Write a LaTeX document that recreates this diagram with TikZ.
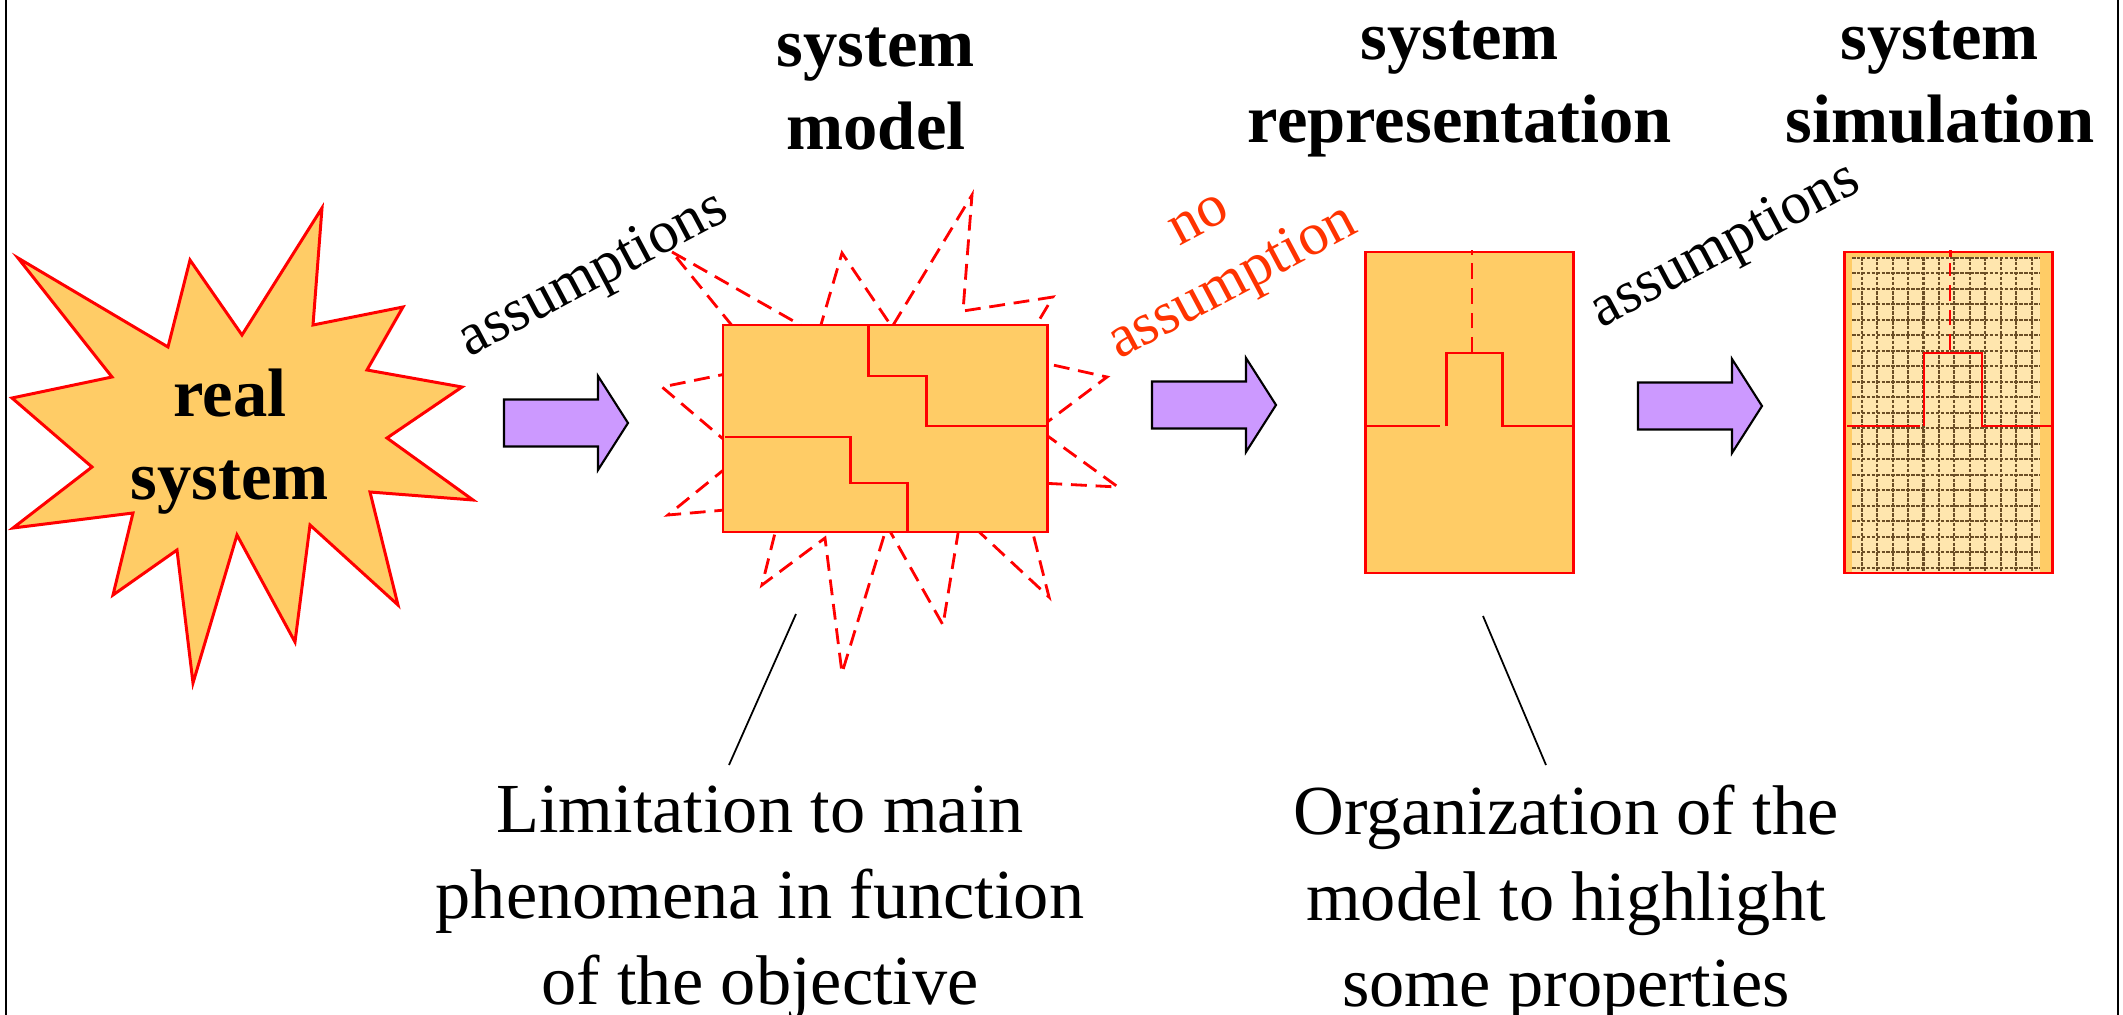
\documentclass[tikz,border=0pt]{standalone}
\usepackage{fontspec}
\setmainfont{Liberation Serif}
\usepackage{tikz}
\definecolor{starfill}{HTML}{FFCC66}
\definecolor{gridfill}{HTML}{FFE6AE}
\definecolor{gridline}{HTML}{6B4E26}
\definecolor{arrowfill}{HTML}{CC99FF}
\definecolor{noassume}{HTML}{FF3300}
\tikzstyle{every picture}=[x=0.01cm,y=-0.01cm]
\tikzstyle{frame}=[draw=black, line width=0.8pt]
\tikzstyle{redline}=[draw=red, line width=0.85pt]
\tikzstyle{thinred}=[draw=red, line width=0.6pt]
\tikzstyle{boxshape}=[redline, fill=starfill]
\tikzstyle{dashline}=[draw=red, line width=0.8pt, dash pattern=on 4.5pt off 2.5pt]
\tikzstyle{gridrule}=[draw=gridline, line width=0.6pt, dash pattern=on 1pt off 0.4pt]
\tikzstyle{arrowshape}=[draw=black, line width=0.6pt, fill=arrowfill, line join=miter]
\tikzstyle{leader}=[draw=black, line width=0.5pt]
\tikzstyle{title}=[font=\fontsize{19.5}{23.6}\selectfont\bfseries, align=center, inner sep=0pt]
\tikzstyle{remark}=[font=\fontsize{20}{24.5}\selectfont, align=center, inner sep=0pt]
\tikzstyle{slanted}=[font=\fontsize{17}{20.5}\selectfont, align=center, rotate=28, inner sep=0pt]
% block arrow: #1 = tail x, #2 = middle y
\newcommand{\fatarrow}[2]{%
  \filldraw[arrowshape] (#1,#2-23.5) -- ++(94,0) -- ++(0,-23.5) -- ++(30,47)
    -- ++(-30,47) -- ++(0,-23.5) -- ++(-94,0) -- cycle;}

\begin{document}
\begin{tikzpicture}
  \useasboundingbox (0,0) rectangle (2123,1015);
  \draw[frame] (6,0) -- (6,1015);
  \draw[frame] (2118,0) -- (2118,1015);

  % real system
  \filldraw[boxshape] (322,208) -- (313,325) -- (403,307) -- (367,370) -- (462,387)
    -- (387,438) -- (473,500) -- (370,492) -- (398,605) -- (310,525) -- (295,642)
    -- (237,535) -- (193,683) -- (177,550) -- (113,595) -- (133,513) -- (13,528)
    -- (92,467) -- (12,398) -- (112,377) -- (18,258) -- (168,347) -- (190,260)
    -- (242,335) -- cycle;
  \node[title] (real) at (230,442) {real\\system};

  % system model
  \draw[dashline] (672,252) -- (818,335) -- (842,253) -- (892,327) -- (972,195)
    -- (963,311) -- (1053,297) -- (1017,357) -- (1107,377) -- (1038,429)
    -- (1118,487) -- (1020,482) -- (1049,597) -- (961,515) -- (943,625)
    -- (887,526) -- (842,673) -- (825,538) -- (762,585) -- (782,505)
    -- (668,515) -- (742,455) -- (662,387) -- (765,366) -- cycle;
  \filldraw[boxshape] (723,325) rectangle (1047,532);
  \draw[redline] (868,325) -- (868,376) -- (926,376) -- (926,426) -- (1047,426);
  \draw[redline] (725,437) -- (850,437) -- (850,483) -- (907,483) -- (907,532);
  \node[title] (model) at (876,89) {system\\model};

  % system representation
  \filldraw[boxshape] (1365,252) rectangle (1573,573);
  \draw[redline] (1367,426) -- (1440,426);
  \draw[redline] (1446,426) -- (1446,353) -- (1502,353) -- (1502,426) -- (1573,426);
  \draw[dashline] (1472,353) -- (1472,250);
  \node[title] (repr) at (1460,89) {system\\representation};

  % system simulation
  \filldraw[boxshape] (1844,252) rectangle (2052,573);
  \fill[gridfill] (1852,257) rectangle (2040,573);
  \foreach \i in {0,...,11}
    \draw[gridrule] (1861.7+15.45*\i,257) -- ++(0,316);
  \foreach \j in {0,...,20}
    \draw[gridrule] (1852,257.7+15.5*\j) -- ++(188,0);
  \draw[redline] (1844,252) rectangle (2052,573);
  \draw[thinred] (1847,426) -- (1920,426);
  \draw[thinred] (1924,426) -- (1924,353) -- (1982,353) -- (1982,426) -- (2052,426);
  \draw[thinred, dash pattern=on 4.5pt off 2.5pt] (1950,350) -- (1950,263);
  \draw[redline] (1950,250) -- (1950,257);
  \node[title] (simu) at (1940,82) {system\\simulation};

  % arrows and their labels
  \fatarrow{504}{423}
  \fatarrow{1152}{405}
  \fatarrow{1638}{406}
  \node[slanted] (assume1) at (594,276) {assumptions};
  \node[slanted, text=noassume] (noassume) at (1219,257) {no\\assumption};
  \node[slanted] (assume2) at (1726,247) {assumptions};

  % comments below
  \node[remark] (limit) at (760,903) {Limitation to main\\phenomena in function\\of the objective};
  \node[remark] (organize) at (1566,903) {Organization of the\\model to highlight\\some properties};
  \coordinate (modelfoot) at (796,614);
  \coordinate (limittop) at (729,765);
  \coordinate (reprfoot) at (1483,616);
  \coordinate (organizetop) at (1546,765);
  \draw[leader] (modelfoot) -- (limittop);
  \draw[leader] (reprfoot) -- (organizetop);
\end{tikzpicture}
\end{document}
